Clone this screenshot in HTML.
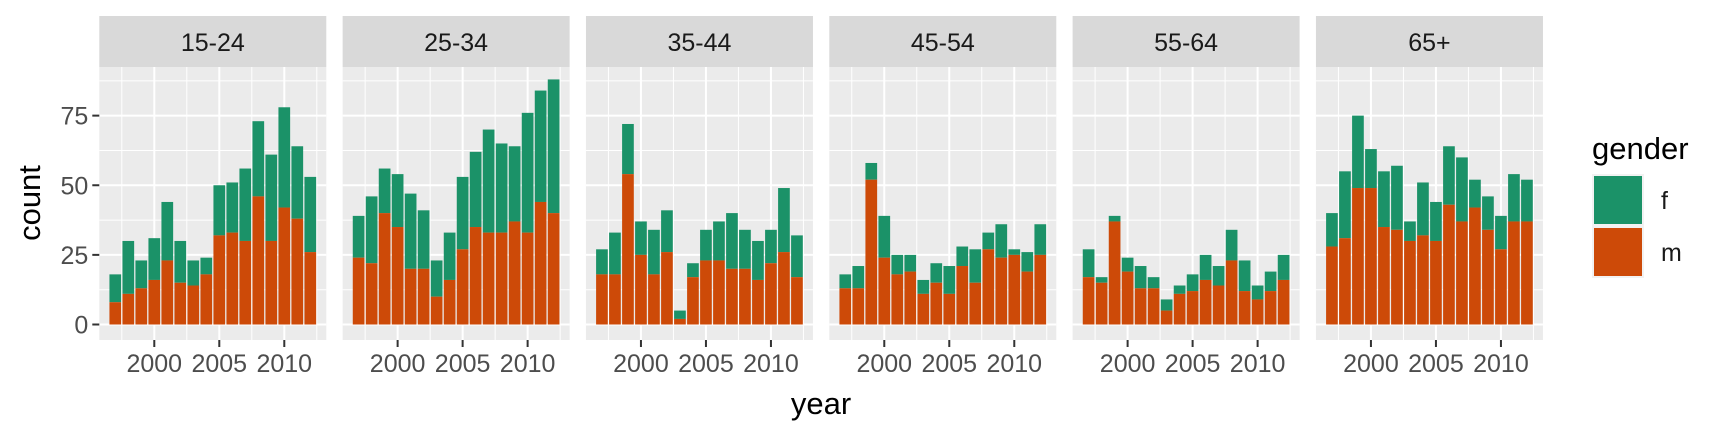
<!DOCTYPE html>
<html><head><meta charset="utf-8"><style>
body{margin:0;background:#fff}
svg{display:block}
text{font-family:"Liberation Sans",Arial,sans-serif}
</style></head><body>
<svg id="chart" width="1728" height="432" viewBox="0 0 1728 432"></svg>
<script>
const years = [1997,1998,1999,2000,2001,2002,2003,2004,2005,2006,2007,2008,2009,2010,2011,2012];
const groups = ["15-24","25-34","35-44","45-54","55-64","65+"];
const totals = [
 [18,30,23,31,44,30,23,24,50,51,56,73,61,78,64,53],
 [39,46,56,54,47,41,23,33,53,62,70,65,64,76,84,88],
 [27,33,72,37,34,41,5,22,34,37,40,34,30,34,49,32],
 [18,21,58,39,25,25,16,22,21,28,27,33,36,27,26,36],
 [27,17,39,24,21,17,9,14,18,25,21,34,23,14,19,25],
 [40,55,75,63,55,57,37,51,44,64,60,52,46,39,54,52]
];
const males = [
 [8,11,13,16,23,15,14,18,32,33,30,46,30,42,38,26],
 [24,22,40,35,20,20,10,16,27,35,33,33,37,33,44,40],
 [18,18,54,25,18,26,2,17,23,23,20,20,16,22,26,17],
 [13,13,52,24,18,19,11,15,11,21,15,27,24,25,19,25],
 [17,15,37,19,13,13,5,11,12,16,14,23,12,9,12,16],
 [28,31,49,49,35,34,30,32,30,43,37,42,34,27,37,37]
];
const yTicks = [0,25,50,75];
const xTicks = [2000,2005,2010];

const NS="http://www.w3.org/2000/svg";
const svg=document.getElementById('chart');
function mk(tag,attrs,parent){const e=document.createElementNS(NS,tag);for(const k in attrs)e.setAttribute(k,attrs[k]);(parent||svg).appendChild(e);return e;}
const GREEN="#1b9268", ORANGE="#cd4a08";
const panelW=227, panelStep=243.33, panelLeft0=99.3, pTop=67, pBot=340;
const xmin=1995.77, pxPerYear=13;
const y0=324.5, pxPerUnit=2.785;
function yS(v){return y0-v*pxPerUnit;}

groups.forEach((g,gi)=>{
  const L=panelLeft0+gi*panelStep;
  function xS(yr){return L+(yr-xmin)*pxPerYear;}
  const pg=mk('g',{});
  
  
  const strip=mk('rect',{x:L,y:16,width:panelW,height:51,fill:'#d9d9d9'},pg);
  
  
  const st=mk('text',{x:L+panelW/2,y:51,'text-anchor':'middle','font-size':25,fill:'#1a1a1a'},pg);
  st.textContent=g;
  
  
  const bg=mk('rect',{x:L,y:pTop,width:panelW,height:pBot-pTop,fill:'#ebebeb'},pg);
  
  
  // minor y grid
  yTicks.forEach(t=>{const v=t+12.5;const yy=yS(v);if(yy>pTop)mk('line',{x1:L,x2:L+panelW,y1:yS(v),y2:yS(v),stroke:'#fff','stroke-width':1},pg);});
  mk('line',{x1:L,x2:L+panelW,y1:yS(-12.5),y2:yS(-12.5),stroke:'#fff','stroke-width':1},pg);
  // minor x grid
  [1997.5,2002.5,2007.5,2012.5].forEach(v=>mk('line',{x1:xS(v),x2:xS(v),y1:pTop,y2:pBot,stroke:'#fff','stroke-width':1},pg));
  yTicks.forEach(t=>mk('line',{x1:L,x2:L+panelW,y1:yS(t),y2:yS(t),stroke:'#fff','stroke-width':2},pg));
  xTicks.forEach(t=>mk('line',{x1:xS(t),x2:xS(t),y1:pTop,y2:pBot,stroke:'#fff','stroke-width':2},pg));
  years.forEach((yr,i)=>{
    const bw=0.9*pxPerYear, bx=xS(yr)-bw/2;
    const m=males[gi][i], t=totals[gi][i];
    const rf=mk('rect',{x:bx,y:yS(t),width:bw,height:(t-m)*pxPerUnit,fill:GREEN},pg);
    
    
    const rm=mk('rect',{x:bx,y:yS(m),width:bw,height:m*pxPerUnit,fill:ORANGE},pg);
    
    
  });
  xTicks.forEach(t=>{
    mk('line',{x1:xS(t),x2:xS(t),y1:pBot,y2:pBot+7,stroke:'#333','stroke-width':2},pg);
    const tl=mk('text',{x:xS(t),y:372,'text-anchor':'middle','font-size':25,fill:'#4d4d4d'},pg);
    tl.textContent=t;
    
    
  });
  if(gi===0){
    yTicks.forEach(t=>{
      mk('line',{x1:L-7,x2:L,y1:yS(t),y2:yS(t),stroke:'#333','stroke-width':2},pg);
      const tl=mk('text',{x:L-11,y:yS(t)+9,'text-anchor':'end','font-size':25,fill:'#4d4d4d'},pg);
      tl.textContent=t;
      
      
    });
  }
});
const yt=mk('text',{x:0,y:0,transform:'translate(40,203) rotate(-90)','text-anchor':'middle','font-size':31,fill:'#000'});
yt.textContent='count';


const xt=mk('text',{x:821,y:414,'text-anchor':'middle','font-size':31,fill:'#000'});
xt.textContent='year';


const lg=mk('g',{});


const lt=mk('text',{x:1592,y:159,'font-size':31,fill:'#000'},lg);
lt.textContent='gender';


[['f',GREEN,174],['m',ORANGE,226]].forEach(([lab,col,ky])=>{
  mk('rect',{x:1592,y:ky,width:52,height:52,fill:'#f2f2f2'},lg);
  const k=mk('rect',{x:1594,y:ky+2,width:48,height:48,fill:col},lg);
  
  
  const t=mk('text',{x:1661,y:ky+35,'font-size':25,fill:'#1a1a1a'},lg);
  t.textContent=lab;
  
  
});
</script>
</body></html>
